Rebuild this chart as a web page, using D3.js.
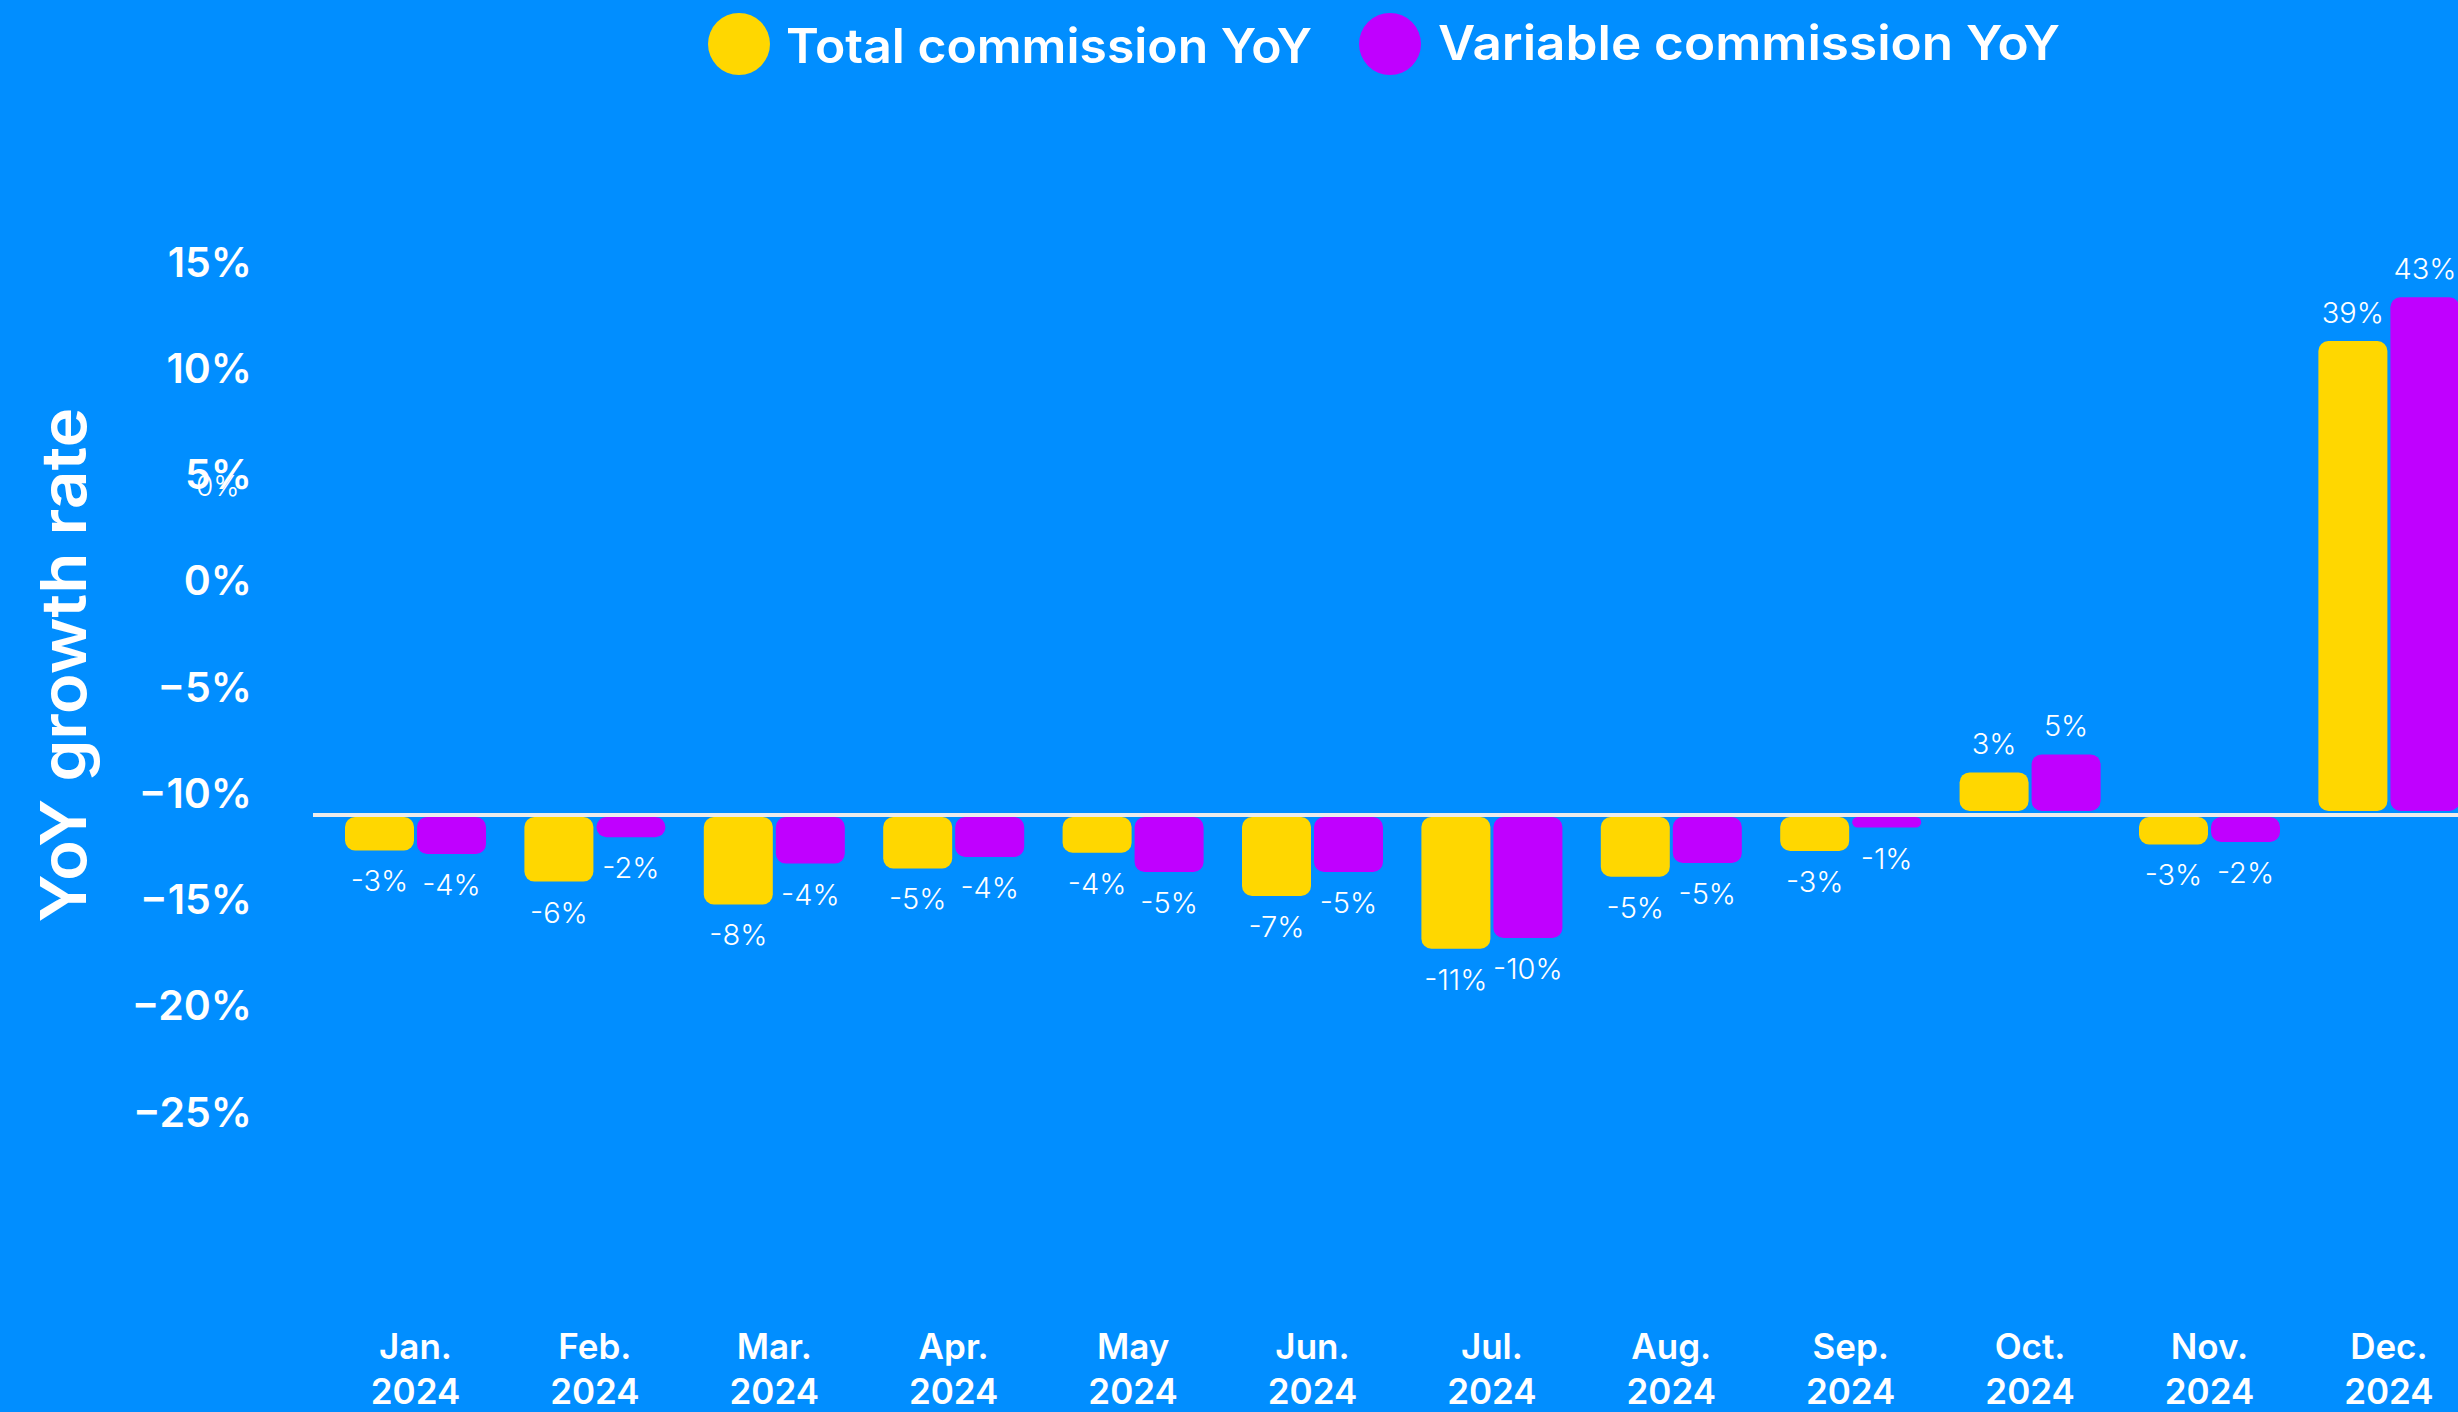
<!DOCTYPE html>
<html>
<head>
<meta charset="utf-8">
<script src="https://cdn.jsdelivr.net/npm/d3@7"></script>
<style>
  html, body { margin: 0; padding: 0; background: #018EFF; }
  svg { display: block; }
</style>
</head>
<body>
<div id="chart"></div>
<script>
// ---------------- data ----------------
const months = ["Jan.", "Feb.", "Mar.", "Apr.", "May", "Jun.", "Jul.", "Aug.", "Sep.", "Oct.", "Nov.", "Dec."];
const years = ["2024", "2024", "2024", "2024", "2024", "2024", "2024", "2024", "2024", "2024", "2024", "2024"];
const seriesNames = ["Total commission YoY", "Variable commission YoY"];
const totalYoY = [-3.2, -5.8, -7.7, -4.7, -3.4, -7.0, -11.4, -5.4, -3.25, 3.3, -2.7, 39.25];
const variableYoY = [-3.5, -2.1, -4.3, -3.75, -5.0, -5.0, -10.5, -4.25, -1.3, 4.8, -2.5, 42.9];
const totalLabels = ["-3%", "-6%", "-8%", "-5%", "-4%", "-7%", "-11%", "-5%", "-3%", "3%", "-3%", "39%"];
const variableLabels = ["-4%", "-2%", "-4%", "-4%", "-5%", "-5%", "-10%", "-5%", "-1%", "5%", "-2%", "43%"];
const yTicks = [15, 10, 5, 0, -5, -10, -15, -20, -25];
const strayLabel = "0%";
const yTitle = "YoY growth rate";

// ---------------- layout ----------------
const W = 2458, H = 1412;
const BG = "#018EFF", YELLOW = "#FFD700", PURPLE = "#C000FF", WHITE = "#FFFFFF";
const BOLD = "'Inter', 'Open Sans', sans-serif";
const LIGHT = "'Inter', 'Roboto', sans-serif";

const svg = d3.select("#chart").append("svg")
  .attr("width", W).attr("height", H)
  .attr("viewBox", [0, 0, W, H]);

svg.append("rect").attr("width", W).attr("height", H).attr("fill", BG);

const x = d3.scaleBand().domain(months).range([345, 2459.4]).paddingInner(0.214).paddingOuter(0);
const xs = d3.scaleBand().domain(["total", "variable"]).range([0, x.bandwidth()]).paddingInner(3 / 72);

// bar scale (12 px per percentage point, zero at 812)
const yBar = d3.scaleLinear().domain([0, 10]).range([812, 692]);
// axis scale (independent from bars, as in the reference)
const yAxisScale = d3.scaleLinear().domain([-25, 15]).range([1113, 263]);

const rows = months.map((m, i) => ({
  month: m, year: years[i],
  bars: [
    { key: "total", value: totalYoY[i], label: totalLabels[i], color: YELLOW },
    { key: "variable", value: variableYoY[i], label: variableLabels[i], color: PURPLE }
  ]
}));

// zero line
svg.append("line")
  .attr("x1", 313).attr("x2", W)
  .attr("y1", yBar(0) + 3).attr("y2", yBar(0) + 3)
  .attr("stroke", "#ECECEC").attr("stroke-width", 4);

// bars
const groups = svg.append("g").selectAll("g").data(rows).join("g")
  .attr("transform", d => `translate(${x(d.month)},0)`);

function barTop(d) { return d.value >= 0 ? yBar(d.value) : yBar(0) + 5; }
function barBottom(d) { return d.value >= 0 ? yBar(0) - 1 : yBar(d.value); }

groups.selectAll("rect").data(d => d.bars).join("rect")
  .attr("x", d => xs(d.key))
  .attr("width", xs.bandwidth())
  .attr("y", d => barTop(d))
  .attr("height", d => Math.max(1, barBottom(d) - barTop(d)))
  .attr("rx", d => Math.min(10, (barBottom(d) - barTop(d)) / 2))
  .attr("fill", d => d.color);

groups.selectAll("text.val").data(d => d.bars).join("text")
  .attr("class", "val")
  .attr("x", d => xs(d.key) + xs.bandwidth() / 2)
  .attr("y", d => d.value >= 0 ? yBar(d.value) - 18 : yBar(d.value) + 41)
  .attr("text-anchor", "middle")
  .attr("font-family", LIGHT).attr("font-weight", 300).attr("font-size", 29)
  .attr("fill", WHITE)
  .text(d => d.label);

// x labels
const xl = svg.append("g").selectAll("text").data(rows).join("text")
  .attr("text-anchor", "middle")
  .attr("font-family", BOLD).attr("font-weight", 600).attr("font-size", 35)
  .attr("fill", WHITE);
xl.append("tspan").attr("x", d => x(d.month) + x.bandwidth() / 2).attr("y", 1359).text(d => d.month);
xl.append("tspan").attr("x", d => x(d.month) + x.bandwidth() / 2).attr("y", 1404).text(d => d.year);

// y axis
const yAxis = svg.append("g")
  .attr("transform", "translate(252,0)")
  .call(d3.axisLeft(yAxisScale).tickValues(yTicks).tickSize(0).tickPadding(0)
    .tickFormat(d => d3.format("d")(d) + "%"));
yAxis.select(".domain").remove();
yAxis.selectAll("text")
  .attr("font-family", BOLD).attr("font-weight", 600).attr("font-size", 41)
  .attr("fill", WHITE);

// stray small label overlapping the 5% tick
svg.append("text")
  .attr("x", 196).attr("y", yAxisScale(5) + 20)
  .attr("font-family", LIGHT).attr("font-weight", 300).attr("font-size", 28)
  .attr("fill", WHITE)
  .text(strayLabel);

// y title
svg.append("text")
  .attr("transform", "translate(86,665) rotate(-90)")
  .attr("text-anchor", "middle")
  .attr("font-family", BOLD).attr("font-weight", 600).attr("font-size", 63)
  .attr("textLength", 515).attr("lengthAdjust", "spacingAndGlyphs")
  .attr("fill", WHITE)
  .text(yTitle);

// legend
const legendItems = [
  { name: seriesNames[0], color: YELLOW, cx: 739, tx: 786, ty: 63, len: 526 },
  { name: seriesNames[1], color: PURPLE, cx: 1390, tx: 1438, ty: 60, len: 622 }
];
const lg = svg.append("g").selectAll("g").data(legendItems).join("g");
lg.append("circle").attr("cx", d => d.cx).attr("cy", 44).attr("r", 31).attr("fill", d => d.color);
lg.append("text").attr("x", d => d.tx).attr("y", d => d.ty)
  .attr("font-family", BOLD).attr("font-weight", 600).attr("font-size", 48)
  .attr("textLength", d => d.len).attr("lengthAdjust", "spacingAndGlyphs")
  .attr("fill", WHITE)
  .text(d => d.name);
</script>
</body>
</html>
